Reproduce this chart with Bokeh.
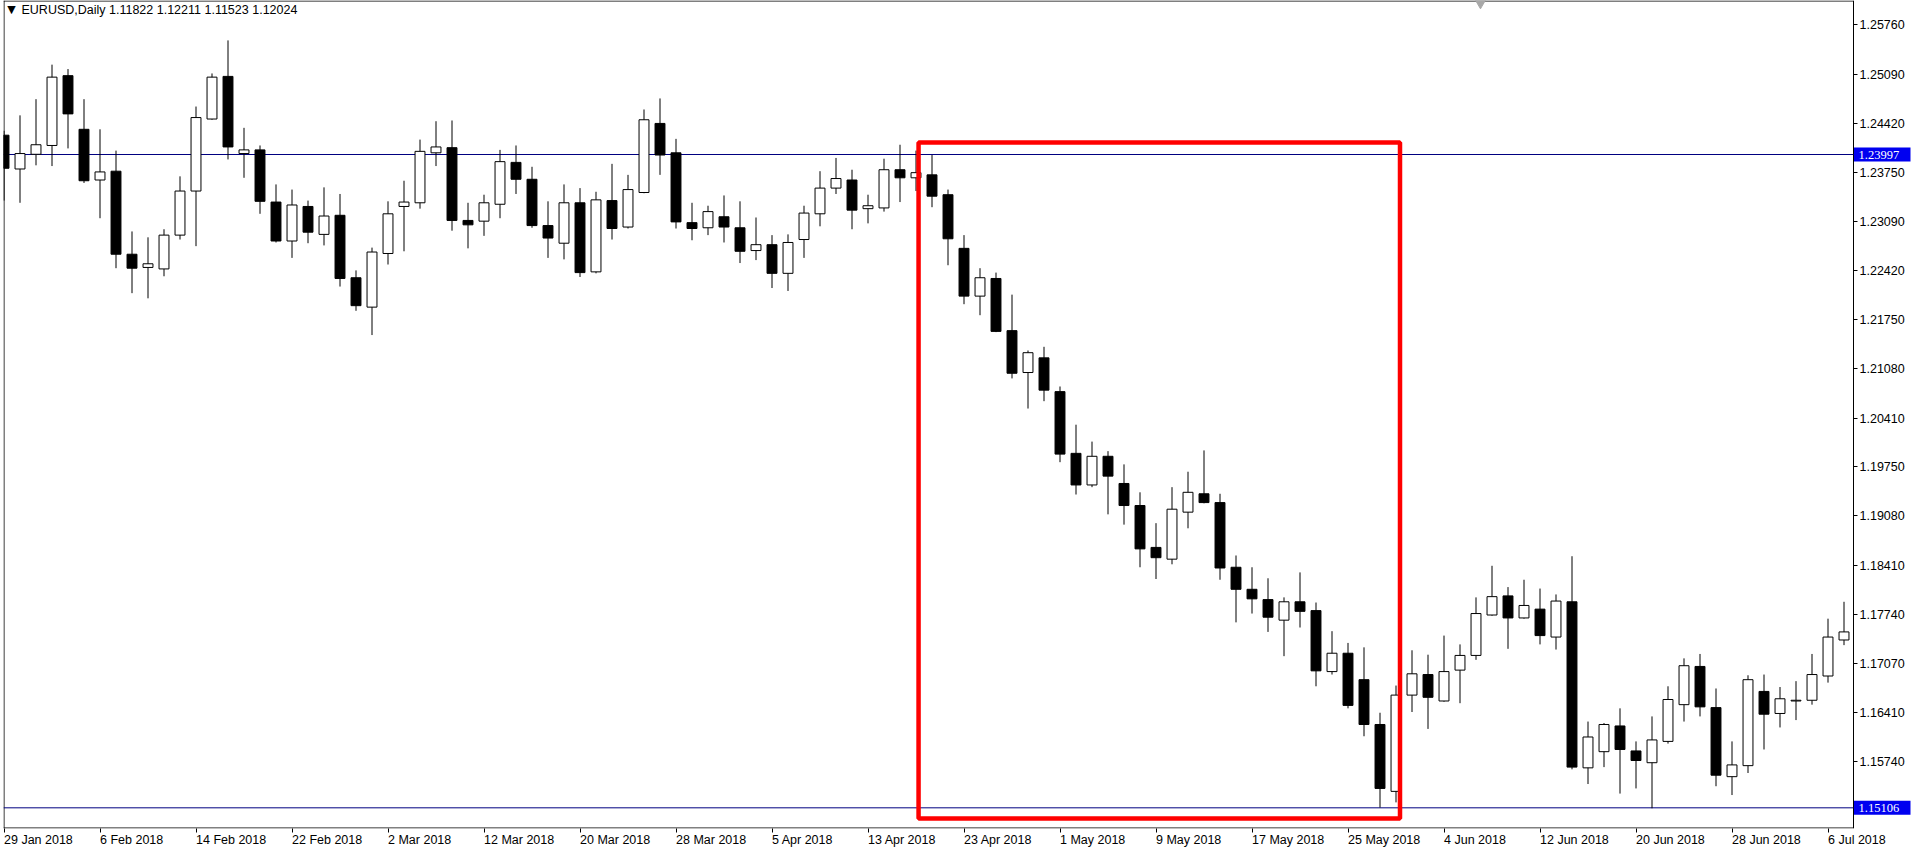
from bokeh.plotting import figure
from bokeh.models import ColumnDataSource, Range1d, FixedTicker, PrintfTickFormatter, Label
from bokeh.embed import file_html
from bokeh.resources import INLINE

# ---------------- data (EURUSD daily, 29 Jan 2018 .. 9 Jul 2018) ----------------
opens = [1.2426, 1.2380, 1.2400, 1.2412, 1.2507, 1.2434, 1.2365, 1.2377, 1.2264, 1.2246,
         1.2244, 1.2290, 1.2350, 1.2448, 1.2506, 1.2401, 1.2406, 1.2335, 1.2282, 1.2329,
         1.2291, 1.2317, 1.2232, 1.2192, 1.2265, 1.2329, 1.2334, 1.2402, 1.2409, 1.2310,
         1.2309, 1.2332, 1.2389, 1.2366, 1.2303, 1.2279, 1.2334, 1.2240, 1.2337, 1.2301,
         1.2348, 1.2442, 1.2402, 1.2307, 1.2300, 1.2315, 1.2300, 1.2269, 1.2277, 1.2238,
         1.2284, 1.2319, 1.2354, 1.2365, 1.2326, 1.2327, 1.2379, 1.2368, 1.2372, 1.2345,
         1.2272, 1.2207, 1.2231, 1.2160, 1.2103, 1.2123, 1.2077, 1.1993, 1.1950, 1.1989,
         1.1952, 1.1922, 1.1865, 1.1849, 1.1913, 1.1938, 1.1926, 1.1838, 1.1808, 1.1794,
         1.1766, 1.1791, 1.1779, 1.1696, 1.1721, 1.1685, 1.1624, 1.1533, 1.1664, 1.1692,
         1.1656, 1.1698, 1.1718, 1.1773, 1.1799, 1.1769, 1.1781, 1.1743, 1.1791, 1.1565,
         1.1587, 1.1622, 1.1588, 1.1572, 1.1601, 1.1651, 1.1703, 1.1647, 1.1553, 1.1568,
         1.1669, 1.1639, 1.1656, 1.1657, 1.1690, 1.1739]
highs = [1.2432, 1.2453, 1.2475, 1.2522, 1.2516, 1.2475, 1.2434, 1.2405, 1.2295, 1.2287,
         1.2298, 1.2370, 1.2465, 1.2510, 1.2555, 1.2436, 1.2412, 1.2359, 1.2352, 1.2337,
         1.2355, 1.2346, 1.2242, 1.2273, 1.2336, 1.2364, 1.2420, 1.2445, 1.2446, 1.2334,
         1.2345, 1.2406, 1.2412, 1.2383, 1.2336, 1.2359, 1.2354, 1.2349, 1.2387, 1.2372,
         1.2461, 1.2476, 1.2421, 1.2334, 1.2330, 1.2344, 1.2336, 1.2314, 1.2290, 1.2291,
         1.2330, 1.2377, 1.2395, 1.2379, 1.2345, 1.2394, 1.2413, 1.2405, 1.2399, 1.2352,
         1.2290, 1.2245, 1.2239, 1.2209, 1.2133, 1.2138, 1.2084, 1.2032, 1.2009, 1.1996,
         1.1978, 1.1940, 1.1898, 1.1947, 1.1968, 1.1997, 1.1938, 1.1854, 1.1838, 1.1823,
         1.1797, 1.1831, 1.1790, 1.1751, 1.1735, 1.1729, 1.1640, 1.1677, 1.1725, 1.1719,
         1.1745, 1.1733, 1.1797, 1.1840, 1.1811, 1.1821, 1.1809, 1.1801, 1.1853, 1.1628,
         1.1626, 1.1646, 1.1601, 1.1635, 1.1676, 1.1714, 1.1720, 1.1673, 1.1601, 1.1691,
         1.1692, 1.1675, 1.1683, 1.1720, 1.1768, 1.1791]
lows = [1.2337, 1.2334, 1.2385, 1.2384, 1.2408, 1.2361, 1.2313, 1.2245, 1.2211, 1.2204,
        1.2234, 1.2284, 1.2275, 1.2447, 1.2393, 1.2368, 1.2319, 1.2280, 1.2259, 1.2279,
        1.2276, 1.2220, 1.2187, 1.2154, 1.2250, 1.2268, 1.2326, 1.2384, 1.2296, 1.2272,
        1.2289, 1.2313, 1.2346, 1.2300, 1.2259, 1.2257, 1.2233, 1.2238, 1.2284, 1.2299,
        1.2347, 1.2372, 1.2299, 1.2283, 1.2290, 1.2280, 1.2252, 1.2256, 1.2218, 1.2214,
        1.2259, 1.2302, 1.2346, 1.2298, 1.2306, 1.2322, 1.2335, 1.2350, 1.2328, 1.2249,
        1.2196, 1.2181, 1.2158, 1.2095, 1.2054, 1.2064, 1.1981, 1.1937, 1.1947, 1.1910,
        1.1896, 1.1838, 1.1822, 1.1842, 1.1891, 1.1925, 1.1821, 1.1763, 1.1775, 1.1750,
        1.1717, 1.1756, 1.1676, 1.1692, 1.1646, 1.1608, 1.1511, 1.1518, 1.1641, 1.1618,
        1.1655, 1.1653, 1.1712, 1.1772, 1.1727, 1.1768, 1.1733, 1.1726, 1.1563, 1.1543,
        1.1566, 1.1530, 1.1537, 1.1510, 1.1598, 1.1628, 1.1635, 1.1540, 1.1528, 1.1558,
        1.1590, 1.1620, 1.1630, 1.1651, 1.1681, 1.1732]
closes = [1.2381, 1.2401, 1.2413, 1.2505, 1.2455, 1.2364, 1.2376, 1.2264, 1.2245, 1.2251,
          1.2290, 1.2350, 1.2450, 1.2505, 1.2410, 1.2406, 1.2336, 1.2282, 1.2331, 1.2294,
          1.2316, 1.2231, 1.2194, 1.2267, 1.2319, 1.2335, 1.2404, 1.2410, 1.2310, 1.2304,
          1.2334, 1.2390, 1.2366, 1.2303, 1.2286, 1.2334, 1.2239, 1.2338, 1.2299, 1.2352,
          1.2447, 1.2399, 1.2308, 1.2299, 1.2322, 1.2301, 1.2268, 1.2277, 1.2238, 1.2280,
          1.2320, 1.2354, 1.2367, 1.2324, 1.2330, 1.2379, 1.2368, 1.2375, 1.2343, 1.2285,
          1.2207, 1.2232, 1.2159, 1.2102, 1.2130, 1.2079, 1.1992, 1.1950, 1.1989, 1.1962,
          1.1922, 1.1863, 1.1851, 1.1917, 1.1940, 1.1926, 1.1837, 1.1808, 1.1795, 1.1770,
          1.1791, 1.1778, 1.1697, 1.1721, 1.1650, 1.1624, 1.1537, 1.1664, 1.1693, 1.1661,
          1.1696, 1.1718, 1.1775, 1.1798, 1.1769, 1.1786, 1.1745, 1.1792, 1.1566, 1.1607,
          1.1624, 1.1590, 1.1575, 1.1603, 1.1658, 1.1704, 1.1648, 1.1555, 1.1569, 1.1685,
          1.1638, 1.1659, 1.1657, 1.1692, 1.1743, 1.1750]

date_tick_bars = [0, 6, 12, 18, 24, 30, 36, 42, 48, 54, 60, 66, 72, 78, 84, 90, 96, 102, 108, 114]
date_tick_labels = ["29 Jan 2018", "6 Feb 2018", "14 Feb 2018", "22 Feb 2018", "2 Mar 2018",
                    "12 Mar 2018", "20 Mar 2018", "28 Mar 2018", "5 Apr 2018", "13 Apr 2018",
                    "23 Apr 2018", "1 May 2018", "9 May 2018", "17 May 2018", "25 May 2018",
                    "4 Jun 2018", "12 Jun 2018", "20 Jun 2018", "28 Jun 2018", "6 Jul 2018"]
price_ticks = [1.15740, 1.16410, 1.17070, 1.17740, 1.18410, 1.19080, 1.19750, 1.20410,
               1.21080, 1.21750, 1.22420, 1.23090, 1.23750, 1.24420, 1.25090, 1.25760]

hline_levels = [1.23997, 1.15106]
hline_labels = ["1.23997", "1.15106"]

header_text = "EURUSD,Daily  1.11822 1.12211 1.11523 1.12024"

# highlighted region (bar index / price)
box_left_bar, box_right_bar = 57.16, 87.25
box_top_price, box_bottom_price = 1.24161, 1.14961
shift_marker_bar = 92.28

# ---------------- geometry ----------------
FONT = "Liberation Sans"
FS = "12.5px"
CHART_W = 1850          # candle area width (px)
SCALE_W = 65            # price scale strip (px)
FRAME_H = 828
PX_PER_BAR = 16.0
PX_PER_UNIT = 7348.0
dx = 1.0 / PX_PER_BAR   # one pixel in bar units
dy = 1.0 / PX_PER_UNIT  # one pixel in price units

x0 = -0.5 * dx
x_edge = x0 + CHART_W * dx
x1 = x_edge + SCALE_W * dx
y1 = 1.26093
y0 = y1 - FRAME_H * dy

# ---------------- build ----------------
n = len(opens)
bars = list(range(n))
body_top = [max(o, c) for o, c in zip(opens, closes)]
body_bot = [min(o, c) for o, c in zip(opens, closes)]
fills = ["white" if c >= o else "black" for o, c in zip(opens, closes)]
src = ColumnDataSource(dict(x=bars, o=opens, h=highs, l=lows, c=closes,
                            top=body_top, bot=body_bot, fill=fills))

p = figure(frame_width=CHART_W + SCALE_W, frame_height=FRAME_H,
           x_range=Range1d(x0, x1), y_range=Range1d(y0, y1),
           y_axis_location="right", x_axis_location="below",
           output_backend="svg", toolbar_location=None,
           min_border_left=3, min_border_top=0, min_border_right=0, min_border_bottom=0,
           background_fill_color="white", border_fill_color="white")
p.grid.visible = False
p.outline_line_color = None

# x axis: date labels start at the tick
xa = p.xaxis[0]
xa.ticker = FixedTicker(ticks=date_tick_bars)
xa.major_label_overrides = {b: t for b, t in zip(date_tick_bars, date_tick_labels)}
xa.major_label_orientation = -1e-4
xa.axis_line_color = None
xa.major_tick_in = 0
xa.major_tick_out = 4
xa.minor_tick_in = 0
xa.minor_tick_out = 0
xa.major_tick_line_color = "black"
xa.major_label_standoff = 7
xa.major_label_text_font = FONT
xa.major_label_text_font_size = FS
xa.major_label_text_color = "black"

# y axis: price scale pinned at the right edge of the candle area
ya = p.yaxis[0]
ya.fixed_location = x_edge
ya.ticker = FixedTicker(ticks=price_ticks)
ya.formatter = PrintfTickFormatter(format="%.5f")
ya.axis_line_color = None
ya.major_tick_in = 0
ya.major_tick_out = 4
ya.minor_tick_in = 0
ya.minor_tick_out = 0
ya.major_tick_line_color = "black"
ya.major_label_standoff = 2
ya.major_label_text_font = FONT
ya.major_label_text_font_size = FS
ya.major_label_text_color = "black"

# chart border (left, top, bottom, right of the candle area)
p.segment(x0=[x0 + 0.5 * dx, x0, x0, x_edge], y0=[y0, y1 - 0.5 * dy, y0 + 0.5 * dy, y0],
          x1=[x0 + 0.5 * dx, x_edge, x_edge, x_edge], y1=[y1, y1 - 0.5 * dy, y0 + 0.5 * dy, y1],
          line_color="black", line_width=1)

# horizontal lines
p.segment(x0=[x0] * len(hline_levels), y0=hline_levels, x1=[x_edge] * len(hline_levels),
          y1=hline_levels, line_color="#000080", line_width=1)

# candles
p.segment(x0="x", y0="l", x1="x", y1="h", source=src, line_color="black", line_width=1)
p.vbar(x="x", top="top", bottom="bot", width=0.62, source=src,
       fill_color="fill", line_color="black", line_width=1)

# red highlight rectangle
p.quad(left=[box_left_bar], right=[box_right_bar], top=[box_top_price], bottom=[box_bottom_price],
       fill_color=None, line_color="#ff0000", line_width=4.5)

# chart-shift marker
p.scatter(x=[shift_marker_bar], y=[y1 - 2 * dy], marker="inverted_triangle", size=11,
          fill_color="#a8a8a8", line_color="#a8a8a8")

# price tags of the horizontal lines on the price scale
p.quad(left=[x_edge + 0.5 * dx] * len(hline_levels), right=[x_edge + 57 * dx] * len(hline_levels),
       top=[v + 7 * dy for v in hline_levels], bottom=[v - 7 * dy for v in hline_levels],
       fill_color="#0000f0", line_color=None)
p.text(x=[x_edge + 5 * dx] * len(hline_levels), y=hline_levels, text=hline_labels,
       text_align="left", text_baseline="middle", text_color="white",
       text_font=FONT, text_font_size=FS)

# header
p.add_layout(Label(x=x0, y=y1, text="\u25BC", x_offset=8, y_offset=-9, text_align="center",
                   text_baseline="middle", text_font="DejaVu Sans", text_font_size="11px",
                   text_color="black"))
p.add_layout(Label(x=x0, y=y1, text=header_text, x_offset=18, y_offset=-9, text_align="left",
                   text_baseline="middle", text_font=FONT, text_font_size="12.5px",
                   text_color="black"))

open("out.html", "w").write(file_html(p, INLINE))
